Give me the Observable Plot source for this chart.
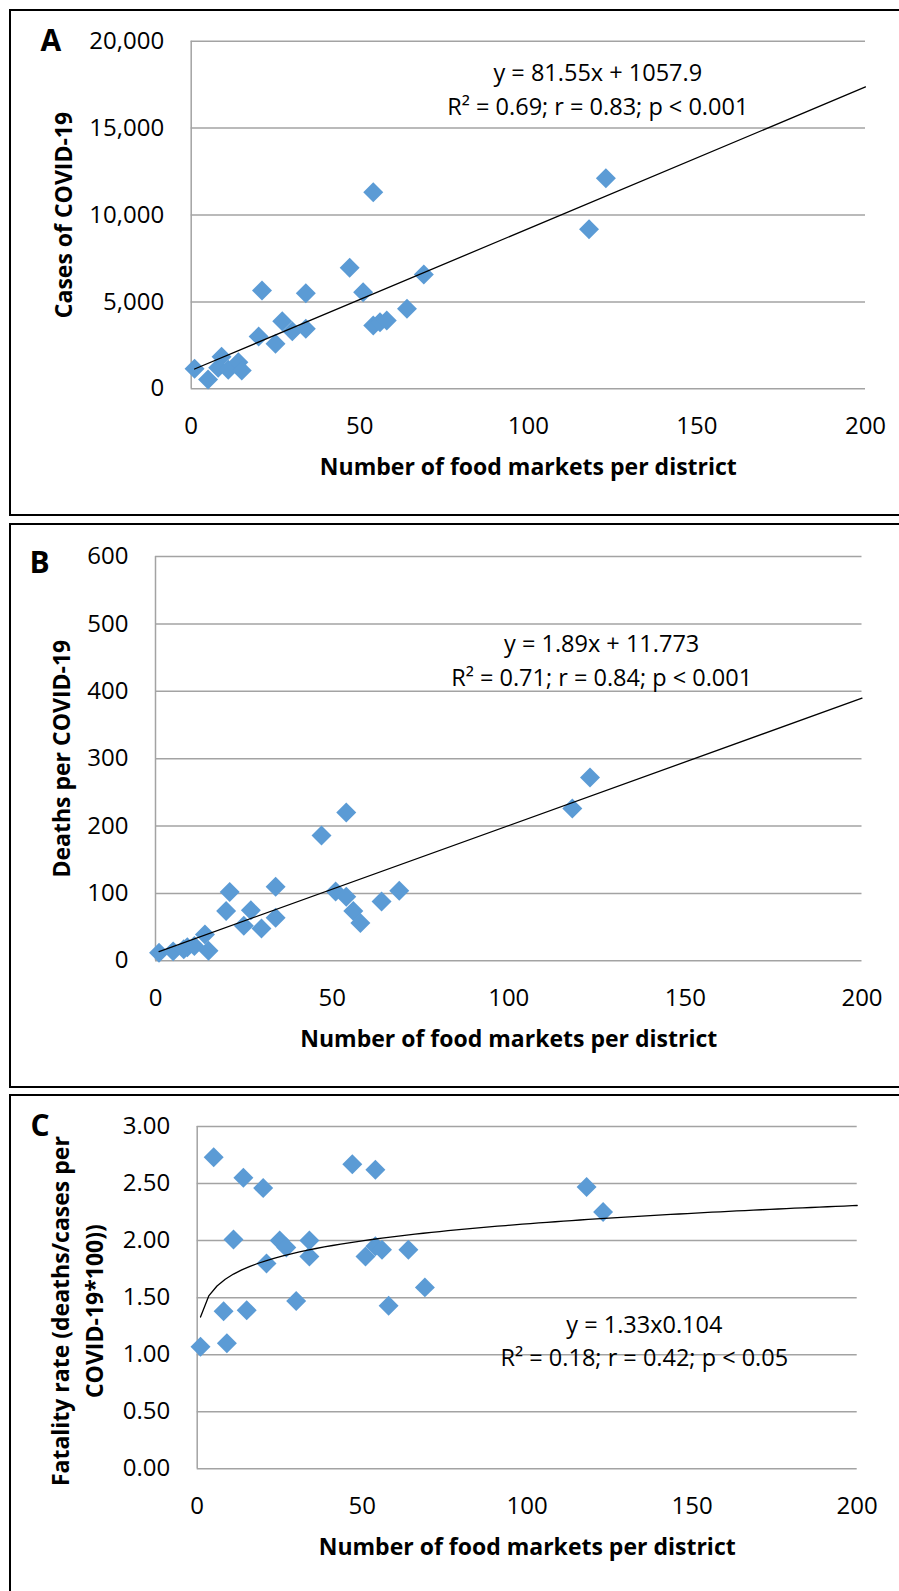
<!DOCTYPE html>
<html>
<head>
<meta charset="utf-8">
<script src="https://cdn.jsdelivr.net/npm/d3@7"></script>
<script src="https://cdn.jsdelivr.net/npm/@observablehq/plot@0.6"></script>
<style>
  html, body { margin: 0; padding: 0; background: #fff; }
  #figure { position: relative; width: 899px; height: 1591px; overflow: hidden; background: #fff; }
  .box { position: absolute; left: 9px; width: 1000px; border: 2px solid #000; box-sizing: border-box; }
  .panel { position: absolute; left: 0; }
  .panel svg { display: block; }
</style>
</head>
<body>
<div id="figure"></div>
<script>
// Districts: number of food markets and COVID-19 outcomes
const markets  = [1, 5, 8, 9, 11, 14, 15, 20, 21, 25, 27, 30, 34, 34, 47, 51, 54, 54, 56, 58, 64, 69, 118, 123];
const cases    = [1150, 535, 1210, 1840, 1090, 1530, 1050, 3010, 5660, 2590, 3890, 3310, 5500, 3450, 6960, 5560, 11310, 3640, 3830, 3930, 4600, 6580, 9180, 12120];
const deaths   = [12, 14, 17, 20, 22, 39, 15, 74, 102, 52, 75, 48, 110, 64, 186, 103, 220, 95, 74, 56, 88, 104, 226, 272];
const fatality = [1.07, 2.73, 1.38, 1.10, 2.01, 2.55, 1.39, 2.46, 1.80, 2.00, 1.94, 1.47, 2.00, 1.86, 2.67, 1.86, 1.95, 2.62, 1.92, 1.43, 1.92, 1.59, 2.47, 2.25];

// Axis ticks
const xTicks        = [0, 50, 100, 150, 200];
const casesTicks    = [0, 5000, 10000, 15000, 20000];
const deathsTicks   = [0, 100, 200, 300, 400, 500, 600];
const fatalityTicks = [0, 0.5, 1, 1.5, 2, 2.5, 3];

// Fitted trend lines
const casesFit    = {slope: 81.55, intercept: 1057.9};
const deathsFit   = {slope: 1.89, intercept: 11.773};
const fatalityFit = {coef: 1.33, power: 0.104};

// Texts
const panelLetters = ["A", "B", "C"];
const xTitle = "Number of food markets per district";
const yTitles = [
  ["Cases of COVID-19"],
  ["Deaths per COVID-19"],
  ["Fatality rate (deaths/cases per", "COVID-19*100))"]
];
const equations = [
  ["y = 81.55x + 1057.9", "R\u00B2 = 0.69; r = 0.83; p < 0.001"],
  ["y = 1.89x + 11.773", "R\u00B2 = 0.71; r = 0.84; p < 0.001"],
  ["y = 1.33x0.104", "R\u00B2 = 0.18; r = 0.42; p < 0.05"]
];

const FONT = "'Open Sans', sans-serif";
const BLUE = "#5b9bd5";
const GRID = "#a3a3a3";
const X_MAX = 200;

const xmin = d3.min(markets);
const linearTrend = f => [xmin, X_MAX].map(x => ({x, y: f.slope * x + f.intercept}));
const powerTrend = f => [xmin, ...d3.range(xmin + 2.5, X_MAX, 2.5), X_MAX].map(x => ({x, y: f.coef * Math.pow(x, f.power)}));

const panels = [
  {
    values: cases, yTicks: casesTicks, domain: [0, 20000], format: d3.format(","),
    trend: linearTrend(casesFit), eqAt: {x: 120.6, y: 15782},
    box: {top: 9, height: 507},
    svg: {top: 0, height: 512}, frame: {left: 190.7, right: 865, top: 40.7, bottom: 388.3},
    letter: {x: 40, y: 50}, yTitleX: 71, yTitleShift: 0
  },
  {
    values: deaths, yTicks: deathsTicks, domain: [0, 600], format: d3.format("d"),
    trend: linearTrend(deathsFit), eqAt: {x: 126.3, y: 408.6},
    box: {top: 523, height: 565},
    svg: {top: 520, height: 566}, frame: {left: 155, right: 861.5, top: 556.1, bottom: 960.3},
    letter: {x: 29, y: 572.5}, yTitleX: 69.5, yTitleShift: 0
  },
  {
    values: fatality, yTicks: fatalityTicks, domain: [0, 3], format: d3.format(".2f"),
    trend: powerTrend(fatalityFit), eqAt: {x: 135.5, y: 0.897},
    box: {top: 1094, height: 600},
    svg: {top: 1091, height: 500}, frame: {left: 196.7, right: 856.7, top: 1126, bottom: 1468.3},
    letter: {x: 30, y: 1135}, yTitleX: 102.5, yTitleShift: 13.5
  }
];

const figure = document.getElementById("figure");

panels.forEach((p, i) => {
  const box = document.createElement("div");
  box.className = "box";
  box.style.top = p.box.top + "px";
  box.style.height = p.box.height + "px";
  figure.appendChild(box);

  const f = p.frame;
  const marginTop = f.top - p.svg.top;
  const marginBottom = p.svg.top + p.svg.height - f.bottom;
  const points = markets.map((m, k) => ({x: m, y: p.values[k]}));
  const yMid = (p.domain[0] + p.domain[1]) / 2;

  const chart = Plot.plot({
    width: 899,
    height: p.svg.height,
    marginLeft: f.left,
    marginRight: 899 - f.right,
    marginTop,
    marginBottom,
    style: {fontFamily: FONT, fontSize: "24px", color: "#000", background: "transparent", overflow: "visible"},
    x: {domain: [0, X_MAX]},
    y: {domain: p.domain},
    marks: [
      Plot.gridY(p.yTicks, {stroke: GRID, strokeOpacity: 1, strokeWidth: 1.5}),
      Plot.ruleX([0], {stroke: GRID, strokeWidth: 1.5}),
      Plot.axisX(xTicks, {tickSize: 0, tickPadding: 28, label: null, fontSize: 24}),
      Plot.axisY(p.yTicks, {tickSize: 0, tickPadding: 27, tickFormat: p.format, label: null, fontSize: 24}),
      Plot.dot(points, {x: "x", y: "y", symbol: "diamond2", r: 9, fill: BLUE, stroke: "none"}),
      Plot.line(p.trend, {x: "x", y: "y", stroke: "#000", strokeWidth: 1.3}),
      Plot.text([{x: p.eqAt.x, y: p.eqAt.y, t: equations[i].join("\n")}], {
        x: "x", y: "y", text: "t", textAnchor: "middle", lineAnchor: "bottom",
        lineHeight: 1.42, fontSize: 23.5, fill: "#000"
      }),
      // x-axis title
      Plot.text([xTitle], {
        frameAnchor: "bottom", textAnchor: "middle", lineAnchor: "bottom",
        dy: 86, fontSize: 23, fontWeight: "bold", fill: "#000"
      }),
      // y-axis title (rotated), centred on the middle of the y domain
      Plot.text([{y: yMid, t: yTitles[i].join("\n")}], {
        y: "y", text: "t", frameAnchor: "left", rotate: -90, textAnchor: "middle", lineAnchor: "bottom",
        lineHeight: 1.46, dx: p.yTitleX - f.left, dy: p.yTitleShift,
        fontSize: 23, fontWeight: "bold", fill: "#000"
      }),
      // panel letter
      Plot.text([panelLetters[i]], {
        frameAnchor: "top-left", textAnchor: "start", lineAnchor: "bottom",
        dx: p.letter.x - f.left, dy: p.letter.y - f.top,
        fontSize: 30, fontWeight: "bold", fill: "#000"
      })
    ]
  });

  const holder = document.createElement("div");
  holder.className = "panel";
  holder.style.top = p.svg.top + "px";
  holder.appendChild(chart);
  figure.appendChild(holder);
});
</script>
</body>
</html>
